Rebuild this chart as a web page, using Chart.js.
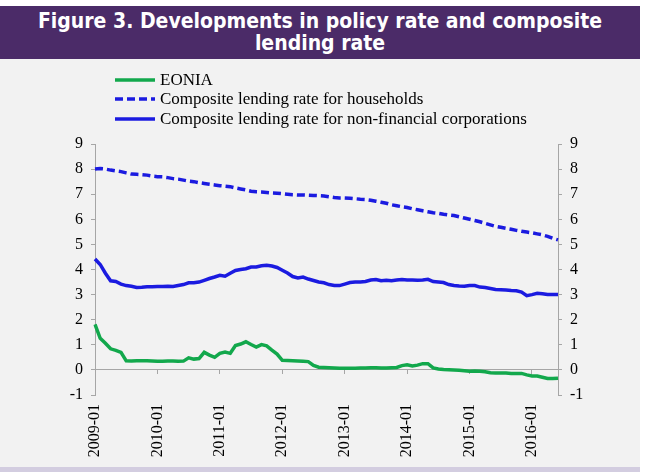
<!DOCTYPE html>
<html><head><meta charset="utf-8">
<script src="https://cdn.jsdelivr.net/npm/chart.js@4/dist/chart.umd.min.js"></script>
<style>
html,body{margin:0;padding:0;background:#fff;width:645px;height:472px;overflow:hidden}
#bg{position:absolute;left:0;top:59px;width:640px;height:408px;background:#f2f2f2}
#banner{position:absolute;left:0;top:6px;width:640px;height:53px;background:#4b2b68;color:#fff;font-family:'DejaVu Sans Condensed','DejaVu Sans',sans-serif;font-stretch:condensed;font-weight:bold;font-size:21px;line-height:22px;text-align:center;padding-top:4px;box-sizing:border-box}
#strip{position:absolute;left:0;top:467px;width:640px;height:5px;background:#d3cde0}
#wrap{position:absolute;left:0;top:0;width:645px;height:472px}
#legend{position:absolute;left:115px;top:70px;font-family:'Liberation Serif','Times New Roman',serif;font-size:17px;color:#000}
.row{height:19.5px;display:flex;align-items:center;white-space:nowrap}
.row svg{width:40px;height:6px;margin-right:5px;display:block}
</style></head>
<body>
<div id="bg"></div>
<div id="banner">Figure 3. Developments in policy rate and composite<br>lending rate</div>
<div id="strip"></div>
<div id="wrap"><canvas id="c" width="645" height="472"></canvas></div>
<div id="legend"></div>
<script>
// Category labels: monthly, 2009-01 .. 2016-06
const startYear = 2009, endYear = 2016, endMonth = 6;
const months = [];
for (let y = startYear; y <= endYear; y++) {
  for (let m = 1; m <= 12; m++) {
    if (y === endYear && m > endMonth) break;
    months.push(y + '-' + String(m).padStart(2, '0'));
  }
}
const yTicks = [-1, 0, 1, 2, 3, 4, 5, 6, 7, 8, 9];
const seriesNames = ['EONIA', 'Composite lending rate for households', 'Composite lending rate for non-financial corporations'];

const eonia = [
  1.81, 1.26, 1.06, 0.84, 0.78, 0.70, 0.36, 0.35, 0.36, 0.36, 0.36, 0.35,
  0.34, 0.34, 0.35, 0.35, 0.34, 0.35, 0.48, 0.43, 0.45, 0.70, 0.59, 0.50,
  0.66, 0.71, 0.66, 0.97, 1.03, 1.12, 1.01, 0.91, 1.01, 0.96, 0.79, 0.63,
  0.38, 0.37, 0.36, 0.35, 0.34, 0.33, 0.18, 0.11, 0.10, 0.09, 0.08, 0.07,
  0.07, 0.07, 0.07, 0.08, 0.08, 0.09, 0.09, 0.08, 0.08, 0.09, 0.10, 0.17,
  0.20, 0.16, 0.19, 0.25, 0.25, 0.08, 0.04, 0.02, 0.01, 0.00, -0.01, -0.03,
  -0.05, -0.04, -0.05, -0.07, -0.11, -0.12, -0.12, -0.12, -0.14, -0.14, -0.14, -0.20,
  -0.24, -0.24, -0.29, -0.34, -0.34, -0.33
];
const households = [
  8.00, 8.02, 8.00, 7.96, 7.93, 7.90, 7.85, 7.80, 7.79, 7.78, 7.76, 7.72,
  7.70, 7.69, 7.66, 7.62, 7.60, 7.56, 7.52, 7.50, 7.46, 7.43, 7.40, 7.37,
  7.34, 7.32, 7.30, 7.25, 7.21, 7.17, 7.12, 7.10, 7.09, 7.07, 7.05, 7.04,
  7.02, 7.00, 6.98, 6.97, 6.97, 6.96, 6.95, 6.94, 6.93, 6.90, 6.87, 6.85,
  6.85, 6.84, 6.82, 6.80, 6.79, 6.76, 6.72, 6.68, 6.64, 6.58, 6.54, 6.50,
  6.47, 6.42, 6.38, 6.34, 6.30, 6.26, 6.24, 6.20, 6.17, 6.15, 6.10, 6.05,
  6.00, 5.95, 5.90, 5.84, 5.78, 5.72, 5.68, 5.64, 5.60, 5.56, 5.52, 5.49,
  5.46, 5.42, 5.38, 5.32, 5.24, 5.18
];
const corporations = [
  4.42, 4.20, 3.85, 3.55, 3.52, 3.42, 3.36, 3.33, 3.28, 3.29, 3.31, 3.31,
  3.32, 3.32, 3.33, 3.32, 3.36, 3.40, 3.47, 3.47, 3.50, 3.57, 3.64, 3.70,
  3.77, 3.73, 3.85, 3.96, 4.00, 4.03, 4.10, 4.10, 4.15, 4.17, 4.14, 4.08,
  3.97, 3.86, 3.72, 3.66, 3.70, 3.62, 3.56, 3.50, 3.47, 3.40, 3.36, 3.36,
  3.42, 3.48, 3.50, 3.50, 3.52, 3.58, 3.60, 3.55, 3.57, 3.55, 3.58, 3.60,
  3.58, 3.58, 3.57, 3.58, 3.61, 3.52, 3.50, 3.48, 3.40, 3.36, 3.34, 3.33,
  3.36, 3.36, 3.30, 3.28, 3.24, 3.20, 3.19, 3.18, 3.16, 3.15, 3.10, 2.96,
  3.00, 3.05, 3.03, 3.00, 3.00, 3.00
];

const GREEN = '#12a84c', BLUE = '#1b1be0', AXIS = '#a6a6a6';
const serif = 'Liberation Serif, Times New Roman, serif';

const datasets = [
  {label: seriesNames[0], data: eonia, borderColor: GREEN, borderWidth: 3.5, dash: []},
  {label: seriesNames[1], data: households, borderColor: BLUE, borderWidth: 3.5, borderDash: [8, 4], dash: [8, 4]},
  {label: seriesNames[2], data: corporations, borderColor: BLUE, borderWidth: 3.5, dash: []}
].map(d => Object.assign({pointRadius: 0, tension: 0, fill: false, borderCapStyle: 'butt', xAxisID: 'x', yAxisID: 'y'}, d));

// HTML legend
const lg = document.getElementById('legend');
datasets.forEach(d => {
  const row = document.createElement('div'); row.className = 'row';
  const dash = d.dash.length ? ` stroke-dasharray="${d.dash.join(' ')}"` : '';
  row.innerHTML = `<svg viewBox="0 0 40 6"><line x1="0" y1="3" x2="40" y2="3" stroke="${d.borderColor}" stroke-width="3.5"${dash}/></svg><span>${d.label}</span>`;
  lg.appendChild(row);
});

const yAxisCommon = {
  min: yTicks[0], max: yTicks[yTicks.length - 1],
  afterBuildTicks: s => { s.ticks = yTicks.map(v => ({value: v})); },
  grid: {drawOnChartArea: false, drawTicks: true, tickLength: 4, color: AXIS},
  border: {display: true, color: AXIS, width: 1},
  ticks: {color: '#000', font: {family: serif, size: 16}, padding: 8}
};

new Chart(document.getElementById('c'), {
  type: 'line',
  data: {labels: months, datasets},
  options: {
    responsive: false, animation: false,
    layout: {padding: {left: 0, right: 0, top: 144, bottom: 0}},
    plugins: {legend: {display: false}, tooltip: {enabled: false}},
    scales: {
      x: {
        type: 'category', position: 'bottom', offset: false,
        grid: {display: false, drawTicks: false}, border: {display: false},
        ticks: {autoSkip: false, maxRotation: 90, minRotation: 90, padding: 9, color: '#000',
          font: {family: serif, size: 16},
          callback: function(v) { const l = this.getLabelForValue(v); return l.endsWith('-01') ? l : ''; }},
        afterFit: s => { s.height = 77; }
      },
      x0: {
        type: 'category', position: {y: 0}, offset: false,
        grid: {drawOnChartArea: false, drawTicks: true, tickLength: 4,
          color: ctx => (ctx.index % 12 === 0 ? AXIS : 'rgba(0,0,0,0)')},
        border: {display: true, color: AXIS, width: 1},
        ticks: {display: false, autoSkip: false}
      },
      y: Object.assign({}, yAxisCommon, {position: 'left', afterFit: s => { s.width = 95; }}),
      y2: Object.assign({}, yAxisCommon, {position: 'right', afterFit: s => { s.width = 87; }})
    }
  }
});
</script>
</body></html>
